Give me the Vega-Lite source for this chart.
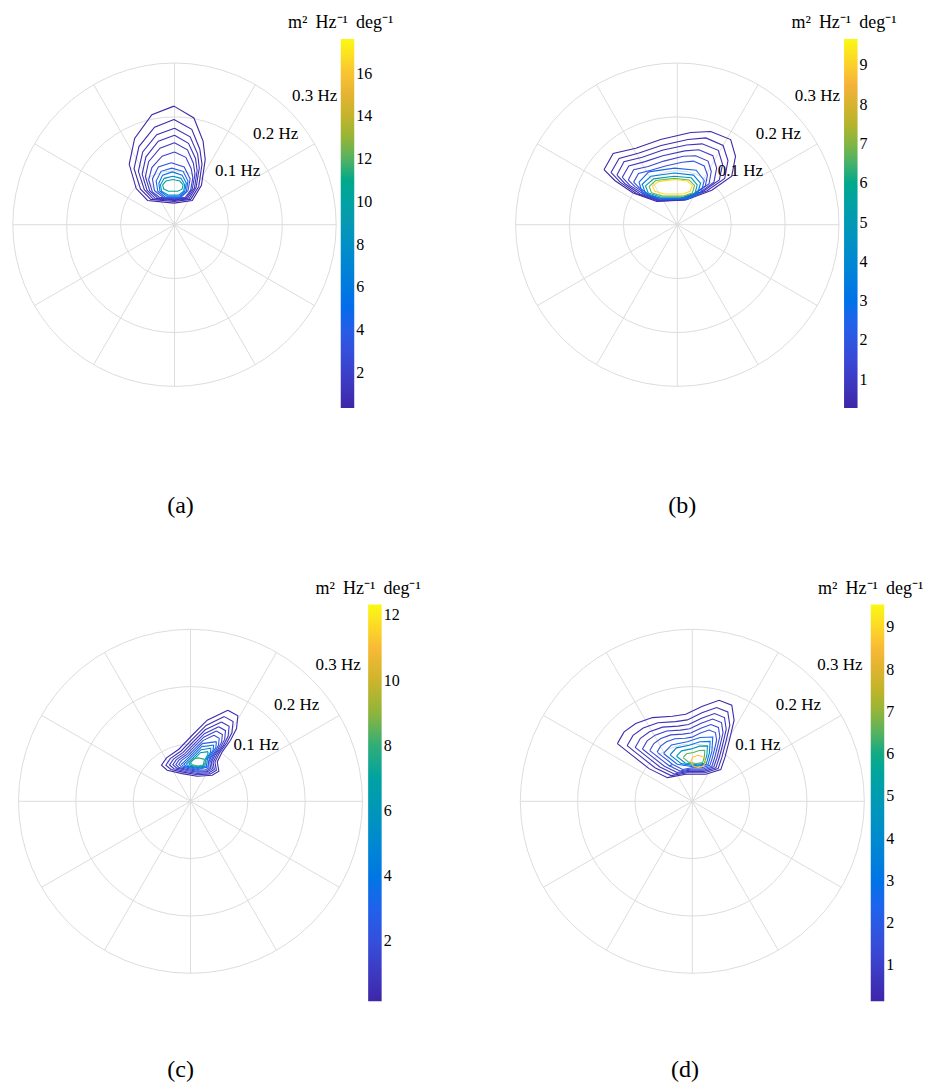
{
"$schema":"https://vega.github.io/schema/vega-lite/v6.json",
"background":"white",
"padding":{"left":9.8,"top":14,"right":0,"bottom":5},
"config":{"view":{"stroke":null},
"title":{"font":"Liberation Serif","fontSize":24,"fontWeight":"normal","color":"black","frame":"group","orient":"bottom"},
"legend":{"orient":"none","direction":"vertical","titleFont":"Liberation Serif","titleFontSize":18,"titleFontWeight":"normal","titleColor":"black","titleAnchor":"start","titleAlign":"center","titlePadding":7,"labelFont":"Liberation Serif","labelFontSize":16,"labelColor":"black","labelOffset":6,"padding":0,"gradientStrokeWidth":0,"labelOverlap":false,"gradientThickness":13.5}},
"datasets":{
"circles":[{"r":0.1},{"r":0.2},{"r":0.3}],
"spokes":[{"x":-0.3,"y":0,"x2":0.3,"y2":0},{"x":-0.2598,"y":-0.15,"x2":0.2598,"y2":0.15},{"x":-0.15,"y":-0.2598,"x2":0.15,"y2":0.2598},{"x":0,"y":-0.3,"x2":0,"y2":0.3},{"x":0.15,"y":-0.2598,"x2":-0.15,"y2":0.2598},{"x":0.2598,"y":-0.15,"x2":-0.2598,"y2":0.15}],
"rlabels":[{"t":"0.1 Hz","x":0.0751,"y":0.0989},{"t":"0.2 Hz","x":0.1456,"y":0.1688},{"t":"0.3 Hz","x":0.218,"y":0.238}],
"ca":[
{"k":1,"lv":0.4,"i":0,"x":-0.001,"y":0.22},{"k":1,"lv":0.4,"i":1,"x":0.036,"y":0.198},{"k":1,"lv":0.4,"i":2,"x":0.053,"y":0.155},{"k":1,"lv":0.4,"i":3,"x":0.057,"y":0.121},{"k":1,"lv":0.4,"i":4,"x":0.05,"y":0.073},{"k":1,"lv":0.4,"i":5,"x":0.033,"y":0.045},{"k":1,"lv":0.4,"i":6,"x":-0.001,"y":0.04},{"k":1,"lv":0.4,"i":7,"x":-0.05,"y":0.045},{"k":1,"lv":0.4,"i":8,"x":-0.071,"y":0.067},{"k":1,"lv":0.4,"i":9,"x":-0.084,"y":0.112},{"k":1,"lv":0.4,"i":10,"x":-0.074,"y":0.16},{"k":1,"lv":0.4,"i":11,"x":-0.042,"y":0.204},{"k":1,"lv":0.4,"i":12,"x":-0.001,"y":0.22},
{"k":2,"lv":0.6,"i":0,"x":-0.001,"y":0.195},{"k":2,"lv":0.6,"i":1,"x":0.032,"y":0.177},{"k":2,"lv":0.6,"i":2,"x":0.047,"y":0.14},{"k":2,"lv":0.6,"i":3,"x":0.051,"y":0.112},{"k":2,"lv":0.6,"i":4,"x":0.045,"y":0.071},{"k":2,"lv":0.6,"i":5,"x":0.03,"y":0.047},{"k":2,"lv":0.6,"i":6,"x":-0.001,"y":0.043},{"k":2,"lv":0.6,"i":7,"x":-0.044,"y":0.047},{"k":2,"lv":0.6,"i":8,"x":-0.063,"y":0.066},{"k":2,"lv":0.6,"i":9,"x":-0.075,"y":0.104},{"k":2,"lv":0.6,"i":10,"x":-0.066,"y":0.145},{"k":2,"lv":0.6,"i":11,"x":-0.037,"y":0.181},{"k":2,"lv":0.6,"i":12,"x":-0.001,"y":0.195},
{"k":3,"lv":0.9,"i":0,"x":0,"y":0.179},{"k":3,"lv":0.9,"i":1,"x":0.029,"y":0.163},{"k":3,"lv":0.9,"i":2,"x":0.043,"y":0.131},{"k":3,"lv":0.9,"i":3,"x":0.046,"y":0.105},{"k":3,"lv":0.9,"i":4,"x":0.04,"y":0.069},{"k":3,"lv":0.9,"i":5,"x":0.027,"y":0.048},{"k":3,"lv":0.9,"i":6,"x":0,"y":0.045},{"k":3,"lv":0.9,"i":7,"x":-0.04,"y":0.048},{"k":3,"lv":0.9,"i":8,"x":-0.056,"y":0.065},{"k":3,"lv":0.9,"i":9,"x":-0.067,"y":0.099},{"k":3,"lv":0.9,"i":10,"x":-0.059,"y":0.135},{"k":3,"lv":0.9,"i":11,"x":-0.033,"y":0.167},{"k":3,"lv":0.9,"i":12,"x":0,"y":0.179},
{"k":4,"lv":1.2,"i":0,"x":0,"y":0.166},{"k":4,"lv":1.2,"i":1,"x":0.026,"y":0.151},{"k":4,"lv":1.2,"i":2,"x":0.039,"y":0.123},{"k":4,"lv":1.2,"i":3,"x":0.042,"y":0.1},{"k":4,"lv":1.2,"i":4,"x":0.037,"y":0.068},{"k":4,"lv":1.2,"i":5,"x":0.024,"y":0.049},{"k":4,"lv":1.2,"i":6,"x":0,"y":0.046},{"k":4,"lv":1.2,"i":7,"x":-0.036,"y":0.049},{"k":4,"lv":1.2,"i":8,"x":-0.051,"y":0.064},{"k":4,"lv":1.2,"i":9,"x":-0.06,"y":0.094},{"k":4,"lv":1.2,"i":10,"x":-0.053,"y":0.126},{"k":4,"lv":1.2,"i":11,"x":-0.03,"y":0.155},{"k":4,"lv":1.2,"i":12,"x":0,"y":0.166},
{"k":5,"lv":1.6,"i":0,"x":0,"y":0.152},{"k":5,"lv":1.6,"i":1,"x":0.024,"y":0.139},{"k":5,"lv":1.6,"i":2,"x":0.035,"y":0.114},{"k":5,"lv":1.6,"i":3,"x":0.038,"y":0.094},{"k":5,"lv":1.6,"i":4,"x":0.033,"y":0.066},{"k":5,"lv":1.6,"i":5,"x":0.022,"y":0.05},{"k":5,"lv":1.6,"i":6,"x":0,"y":0.047},{"k":5,"lv":1.6,"i":7,"x":-0.032,"y":0.05},{"k":5,"lv":1.6,"i":8,"x":-0.046,"y":0.063},{"k":5,"lv":1.6,"i":9,"x":-0.054,"y":0.089},{"k":5,"lv":1.6,"i":10,"x":-0.048,"y":0.117},{"k":5,"lv":1.6,"i":11,"x":-0.027,"y":0.142},{"k":5,"lv":1.6,"i":12,"x":0,"y":0.152},
{"k":6,"lv":2.2,"i":0,"x":0,"y":0.135},{"k":6,"lv":2.2,"i":1,"x":0.021,"y":0.125},{"k":6,"lv":2.2,"i":2,"x":0.031,"y":0.104},{"k":6,"lv":2.2,"i":3,"x":0.034,"y":0.087},{"k":6,"lv":2.2,"i":4,"x":0.03,"y":0.064},{"k":6,"lv":2.2,"i":5,"x":0.02,"y":0.051},{"k":6,"lv":2.2,"i":6,"x":0,"y":0.048},{"k":6,"lv":2.2,"i":7,"x":-0.028,"y":0.051},{"k":6,"lv":2.2,"i":8,"x":-0.041,"y":0.061},{"k":6,"lv":2.2,"i":9,"x":-0.048,"y":0.083},{"k":6,"lv":2.2,"i":10,"x":-0.042,"y":0.106},{"k":6,"lv":2.2,"i":11,"x":-0.023,"y":0.127},{"k":6,"lv":2.2,"i":12,"x":0,"y":0.135},
{"k":7,"lv":3.0,"i":0,"x":-0.006,"y":0.115},{"k":7,"lv":3.0,"i":1,"x":0.018,"y":0.107},{"k":7,"lv":3.0,"i":2,"x":0.029,"y":0.085},{"k":7,"lv":3.0,"i":3,"x":0.025,"y":0.063},{"k":7,"lv":3.0,"i":4,"x":0.011,"y":0.05},{"k":7,"lv":3.0,"i":5,"x":-0.02,"y":0.05},{"k":7,"lv":3.0,"i":6,"x":-0.037,"y":0.063},{"k":7,"lv":3.0,"i":7,"x":-0.041,"y":0.085},{"k":7,"lv":3.0,"i":8,"x":-0.03,"y":0.107},{"k":7,"lv":3.0,"i":9,"x":-0.006,"y":0.115},
{"k":8,"lv":4.0,"i":0,"x":-0.005,"y":0.105},{"k":8,"lv":4.0,"i":1,"x":0.016,"y":0.099},{"k":8,"lv":4.0,"i":2,"x":0.025,"y":0.081},{"k":8,"lv":4.0,"i":3,"x":0.022,"y":0.062},{"k":8,"lv":4.0,"i":4,"x":0.01,"y":0.051},{"k":8,"lv":4.0,"i":5,"x":-0.017,"y":0.051},{"k":8,"lv":4.0,"i":6,"x":-0.031,"y":0.062},{"k":8,"lv":4.0,"i":7,"x":-0.034,"y":0.081},{"k":8,"lv":4.0,"i":8,"x":-0.025,"y":0.099},{"k":8,"lv":4.0,"i":9,"x":-0.005,"y":0.105},
{"k":9,"lv":5.5,"i":0,"x":-0.004,"y":0.098},{"k":9,"lv":5.5,"i":1,"x":0.014,"y":0.092},{"k":9,"lv":5.5,"i":2,"x":0.022,"y":0.077},{"k":9,"lv":5.5,"i":3,"x":0.019,"y":0.062},{"k":9,"lv":5.5,"i":4,"x":0.009,"y":0.053},{"k":9,"lv":5.5,"i":5,"x":-0.014,"y":0.053},{"k":9,"lv":5.5,"i":6,"x":-0.027,"y":0.062},{"k":9,"lv":5.5,"i":7,"x":-0.029,"y":0.077},{"k":9,"lv":5.5,"i":8,"x":-0.022,"y":0.092},{"k":9,"lv":5.5,"i":9,"x":-0.004,"y":0.098},
{"k":10,"lv":7.5,"i":0,"x":-0.003,"y":0.09},{"k":10,"lv":7.5,"i":1,"x":0.012,"y":0.086},{"k":10,"lv":7.5,"i":2,"x":0.019,"y":0.074},{"k":10,"lv":7.5,"i":3,"x":0.017,"y":0.062},{"k":10,"lv":7.5,"i":4,"x":0.008,"y":0.055},{"k":10,"lv":7.5,"i":5,"x":-0.012,"y":0.055},{"k":10,"lv":7.5,"i":6,"x":-0.024,"y":0.062},{"k":10,"lv":7.5,"i":7,"x":-0.026,"y":0.074},{"k":10,"lv":7.5,"i":8,"x":-0.019,"y":0.086},{"k":10,"lv":7.5,"i":9,"x":-0.003,"y":0.09},
{"k":11,"lv":10.5,"i":0,"x":-0.003,"y":0.084},{"k":11,"lv":10.5,"i":1,"x":0.01,"y":0.081},{"k":11,"lv":10.5,"i":2,"x":0.016,"y":0.074},{"k":11,"lv":10.5,"i":3,"x":0.014,"y":0.066},{"k":11,"lv":10.5,"i":4,"x":0.006,"y":0.062},{"k":11,"lv":10.5,"i":5,"x":-0.011,"y":0.062},{"k":11,"lv":10.5,"i":6,"x":-0.02,"y":0.066},{"k":11,"lv":10.5,"i":7,"x":-0.022,"y":0.074},{"k":11,"lv":10.5,"i":8,"x":-0.016,"y":0.081},{"k":11,"lv":10.5,"i":9,"x":-0.003,"y":0.084}
],
"cb":[
{"k":1,"lv":0.35,"i":0,"x":-0.136,"y":0.102},{"k":1,"lv":0.35,"i":1,"x":-0.119,"y":0.132},{"k":1,"lv":0.35,"i":2,"x":-0.077,"y":0.142},{"k":1,"lv":0.35,"i":3,"x":-0.031,"y":0.158},{"k":1,"lv":0.35,"i":4,"x":0.025,"y":0.171},{"k":1,"lv":0.35,"i":5,"x":0.062,"y":0.173},{"k":1,"lv":0.35,"i":6,"x":0.099,"y":0.158},{"k":1,"lv":0.35,"i":7,"x":0.108,"y":0.127},{"k":1,"lv":0.35,"i":8,"x":0.101,"y":0.09},{"k":1,"lv":0.35,"i":9,"x":0.064,"y":0.064},{"k":1,"lv":0.35,"i":10,"x":0.016,"y":0.046},{"k":1,"lv":0.35,"i":11,"x":-0.038,"y":0.043},{"k":1,"lv":0.35,"i":12,"x":-0.082,"y":0.059},{"k":1,"lv":0.35,"i":13,"x":-0.116,"y":0.082},{"k":1,"lv":0.35,"i":14,"x":-0.136,"y":0.102},
{"k":2,"lv":0.5,"i":0,"x":-0.123,"y":0.097},{"k":2,"lv":0.5,"i":1,"x":-0.108,"y":0.123},{"k":2,"lv":0.5,"i":2,"x":-0.071,"y":0.133},{"k":2,"lv":0.5,"i":3,"x":-0.03,"y":0.147},{"k":2,"lv":0.5,"i":4,"x":0.02,"y":0.158},{"k":2,"lv":0.5,"i":5,"x":0.053,"y":0.161},{"k":2,"lv":0.5,"i":6,"x":0.085,"y":0.147},{"k":2,"lv":0.5,"i":7,"x":0.094,"y":0.119},{"k":2,"lv":0.5,"i":8,"x":0.088,"y":0.086},{"k":2,"lv":0.5,"i":9,"x":0.055,"y":0.063},{"k":2,"lv":0.5,"i":10,"x":0.012,"y":0.046},{"k":2,"lv":0.5,"i":11,"x":-0.036,"y":0.044},{"k":2,"lv":0.5,"i":12,"x":-0.076,"y":0.058},{"k":2,"lv":0.5,"i":13,"x":-0.106,"y":0.079},{"k":2,"lv":0.5,"i":14,"x":-0.123,"y":0.097},
{"k":3,"lv":0.7,"i":0,"x":-0.112,"y":0.092},{"k":3,"lv":0.7,"i":1,"x":-0.099,"y":0.117},{"k":3,"lv":0.7,"i":2,"x":-0.065,"y":0.125},{"k":3,"lv":0.7,"i":3,"x":-0.028,"y":0.138},{"k":3,"lv":0.7,"i":4,"x":0.017,"y":0.148},{"k":3,"lv":0.7,"i":5,"x":0.046,"y":0.15},{"k":3,"lv":0.7,"i":6,"x":0.076,"y":0.138},{"k":3,"lv":0.7,"i":7,"x":0.084,"y":0.112},{"k":3,"lv":0.7,"i":8,"x":0.078,"y":0.083},{"k":3,"lv":0.7,"i":9,"x":0.048,"y":0.062},{"k":3,"lv":0.7,"i":10,"x":0.009,"y":0.047},{"k":3,"lv":0.7,"i":11,"x":-0.034,"y":0.045},{"k":3,"lv":0.7,"i":12,"x":-0.069,"y":0.057},{"k":3,"lv":0.7,"i":13,"x":-0.097,"y":0.076},{"k":3,"lv":0.7,"i":14,"x":-0.112,"y":0.092},
{"k":4,"lv":1.0,"i":0,"x":-0.102,"y":0.088},{"k":4,"lv":1.0,"i":1,"x":-0.09,"y":0.109},{"k":4,"lv":1.0,"i":2,"x":-0.06,"y":0.117},{"k":4,"lv":1.0,"i":3,"x":-0.027,"y":0.128},{"k":4,"lv":1.0,"i":4,"x":0.014,"y":0.137},{"k":4,"lv":1.0,"i":5,"x":0.04,"y":0.139},{"k":4,"lv":1.0,"i":6,"x":0.066,"y":0.128},{"k":4,"lv":1.0,"i":7,"x":0.073,"y":0.105},{"k":4,"lv":1.0,"i":8,"x":0.068,"y":0.079},{"k":4,"lv":1.0,"i":9,"x":0.042,"y":0.06},{"k":4,"lv":1.0,"i":10,"x":0.007,"y":0.047},{"k":4,"lv":1.0,"i":11,"x":-0.032,"y":0.045},{"k":4,"lv":1.0,"i":12,"x":-0.063,"y":0.057},{"k":4,"lv":1.0,"i":13,"x":-0.088,"y":0.073},{"k":4,"lv":1.0,"i":14,"x":-0.102,"y":0.088},
{"k":5,"lv":1.35,"i":0,"x":-0.091,"y":0.083},{"k":5,"lv":1.35,"i":1,"x":-0.081,"y":0.102},{"k":5,"lv":1.35,"i":2,"x":-0.054,"y":0.108},{"k":5,"lv":1.35,"i":3,"x":-0.025,"y":0.118},{"k":5,"lv":1.35,"i":4,"x":0.011,"y":0.127},{"k":5,"lv":1.35,"i":5,"x":0.034,"y":0.128},{"k":5,"lv":1.35,"i":6,"x":0.057,"y":0.118},{"k":5,"lv":1.35,"i":7,"x":0.063,"y":0.099},{"k":5,"lv":1.35,"i":8,"x":0.059,"y":0.076},{"k":5,"lv":1.35,"i":9,"x":0.035,"y":0.059},{"k":5,"lv":1.35,"i":10,"x":0.005,"y":0.048},{"k":5,"lv":1.35,"i":11,"x":-0.03,"y":0.046},{"k":5,"lv":1.35,"i":12,"x":-0.057,"y":0.056},{"k":5,"lv":1.35,"i":13,"x":-0.079,"y":0.071},{"k":5,"lv":1.35,"i":14,"x":-0.091,"y":0.083},
{"k":6,"lv":1.8,"i":0,"x":-0.081,"y":0.079},{"k":6,"lv":1.8,"i":1,"x":-0.072,"y":0.095},{"k":6,"lv":1.8,"i":2,"x":-0.049,"y":0.101},{"k":6,"lv":1.8,"i":3,"x":-0.022,"y":0.109},{"k":6,"lv":1.8,"i":4,"x":0.009,"y":0.116},{"k":6,"lv":1.8,"i":5,"x":0.03,"y":0.118},{"k":6,"lv":1.8,"i":6,"x":0.05,"y":0.109},{"k":6,"lv":1.8,"i":7,"x":0.056,"y":0.092},{"k":6,"lv":1.8,"i":8,"x":0.052,"y":0.072},{"k":6,"lv":1.8,"i":9,"x":0.031,"y":0.058},{"k":6,"lv":1.8,"i":10,"x":0.004,"y":0.048},{"k":6,"lv":1.8,"i":11,"x":-0.027,"y":0.047},{"k":6,"lv":1.8,"i":12,"x":-0.051,"y":0.055},{"k":6,"lv":1.8,"i":13,"x":-0.07,"y":0.068},{"k":6,"lv":1.8,"i":14,"x":-0.081,"y":0.079},
{"k":7,"lv":2.6,"i":0,"x":-0.005,"y":0.105},{"k":7,"lv":2.6,"i":1,"x":0.035,"y":0.101},{"k":7,"lv":2.6,"i":2,"x":0.05,"y":0.082},{"k":7,"lv":2.6,"i":3,"x":0.044,"y":0.059},{"k":7,"lv":2.6,"i":4,"x":0.02,"y":0.048},{"k":7,"lv":2.6,"i":5,"x":-0.035,"y":0.048},{"k":7,"lv":2.6,"i":6,"x":-0.065,"y":0.059},{"k":7,"lv":2.6,"i":7,"x":-0.071,"y":0.079},{"k":7,"lv":2.6,"i":8,"x":-0.053,"y":0.098},{"k":7,"lv":2.6,"i":9,"x":-0.005,"y":0.105},
{"k":8,"lv":3.6,"i":0,"x":-0.005,"y":0.096},{"k":8,"lv":3.6,"i":1,"x":0.03,"y":0.092},{"k":8,"lv":3.6,"i":2,"x":0.043,"y":0.077},{"k":8,"lv":3.6,"i":3,"x":0.038,"y":0.058},{"k":8,"lv":3.6,"i":4,"x":0.016,"y":0.049},{"k":8,"lv":3.6,"i":5,"x":-0.032,"y":0.049},{"k":8,"lv":3.6,"i":6,"x":-0.059,"y":0.058},{"k":8,"lv":3.6,"i":7,"x":-0.065,"y":0.075},{"k":8,"lv":3.6,"i":8,"x":-0.049,"y":0.09},{"k":8,"lv":3.6,"i":9,"x":-0.005,"y":0.096},
{"k":9,"lv":5.0,"i":0,"x":-0.006,"y":0.09},{"k":9,"lv":5.0,"i":1,"x":0.026,"y":0.087},{"k":9,"lv":5.0,"i":2,"x":0.037,"y":0.074},{"k":9,"lv":5.0,"i":3,"x":0.033,"y":0.059},{"k":9,"lv":5.0,"i":4,"x":0.013,"y":0.051},{"k":9,"lv":5.0,"i":5,"x":-0.03,"y":0.051},{"k":9,"lv":5.0,"i":6,"x":-0.054,"y":0.059},{"k":9,"lv":5.0,"i":7,"x":-0.059,"y":0.072},{"k":9,"lv":5.0,"i":8,"x":-0.044,"y":0.085},{"k":9,"lv":5.0,"i":9,"x":-0.006,"y":0.09},
{"k":10,"lv":6.8,"i":0,"x":-0.006,"y":0.086},{"k":10,"lv":6.8,"i":1,"x":0.022,"y":0.083},{"k":10,"lv":6.8,"i":2,"x":0.032,"y":0.073},{"k":10,"lv":6.8,"i":3,"x":0.028,"y":0.059},{"k":10,"lv":6.8,"i":4,"x":0.011,"y":0.053},{"k":10,"lv":6.8,"i":5,"x":-0.027,"y":0.053},{"k":10,"lv":6.8,"i":6,"x":-0.048,"y":0.059},{"k":10,"lv":6.8,"i":7,"x":-0.052,"y":0.071},{"k":10,"lv":6.8,"i":8,"x":-0.04,"y":0.082},{"k":10,"lv":6.8,"i":9,"x":-0.006,"y":0.086},
{"k":11,"lv":9.2,"i":0,"x":-0.005,"y":0.084},{"k":11,"lv":9.2,"i":1,"x":0.019,"y":0.081},{"k":11,"lv":9.2,"i":2,"x":0.028,"y":0.073},{"k":11,"lv":9.2,"i":3,"x":0.024,"y":0.062},{"k":11,"lv":9.2,"i":4,"x":0.01,"y":0.057},{"k":11,"lv":9.2,"i":5,"x":-0.024,"y":0.057},{"k":11,"lv":9.2,"i":6,"x":-0.042,"y":0.062},{"k":11,"lv":9.2,"i":7,"x":-0.046,"y":0.072},{"k":11,"lv":9.2,"i":8,"x":-0.035,"y":0.08},{"k":11,"lv":9.2,"i":9,"x":-0.005,"y":0.084}
],
"cc":[
{"k":1,"lv":0.4,"i":0,"x":0.0652,"y":0.1589},{"k":1,"lv":0.4,"i":1,"x":0.0826,"y":0.149},{"k":1,"lv":0.4,"i":2,"x":0.0803,"y":0.1269},{"k":1,"lv":0.4,"i":3,"x":0.0698,"y":0.1065},{"k":1,"lv":0.4,"i":4,"x":0.0553,"y":0.0862},{"k":1,"lv":0.4,"i":5,"x":0.0466,"y":0.0687},{"k":1,"lv":0.4,"i":6,"x":0.0495,"y":0.0524},{"k":1,"lv":0.4,"i":7,"x":0.0378,"y":0.0454},{"k":1,"lv":0.4,"i":8,"x":0.0117,"y":0.0437},{"k":1,"lv":0.4,"i":9,"x":-0.0145,"y":0.0483},{"k":1,"lv":0.4,"i":10,"x":-0.0407,"y":0.0542},{"k":1,"lv":0.4,"i":11,"x":-0.0506,"y":0.0629},{"k":1,"lv":0.4,"i":12,"x":-0.0419,"y":0.0757},{"k":1,"lv":0.4,"i":13,"x":-0.0203,"y":0.0908},{"k":1,"lv":0.4,"i":14,"x":0.0029,"y":0.1152},{"k":1,"lv":0.4,"i":15,"x":0.0291,"y":0.1414},{"k":1,"lv":0.4,"i":16,"x":0.0652,"y":0.1589},
{"k":2,"lv":0.6,"i":0,"x":0.059,"y":0.1477},{"k":2,"lv":0.6,"i":1,"x":0.0743,"y":0.139},{"k":2,"lv":0.6,"i":2,"x":0.0723,"y":0.1196},{"k":2,"lv":0.6,"i":3,"x":0.063,"y":0.1016},{"k":2,"lv":0.6,"i":4,"x":0.0503,"y":0.0838},{"k":2,"lv":0.6,"i":5,"x":0.0426,"y":0.0684},{"k":2,"lv":0.6,"i":6,"x":0.0452,"y":0.054},{"k":2,"lv":0.6,"i":7,"x":0.0349,"y":0.0478},{"k":2,"lv":0.6,"i":8,"x":0.0119,"y":0.0464},{"k":2,"lv":0.6,"i":9,"x":-0.0112,"y":0.0504},{"k":2,"lv":0.6,"i":10,"x":-0.0342,"y":0.0556},{"k":2,"lv":0.6,"i":11,"x":-0.0429,"y":0.0632},{"k":2,"lv":0.6,"i":12,"x":-0.0353,"y":0.0745},{"k":2,"lv":0.6,"i":13,"x":-0.0163,"y":0.0878},{"k":2,"lv":0.6,"i":14,"x":0.0042,"y":0.1093},{"k":2,"lv":0.6,"i":15,"x":0.0272,"y":0.1323},{"k":2,"lv":0.6,"i":16,"x":0.059,"y":0.1477},
{"k":3,"lv":0.9,"i":0,"x":0.0538,"y":0.1384},{"k":3,"lv":0.9,"i":1,"x":0.0674,"y":0.1307},{"k":3,"lv":0.9,"i":2,"x":0.0656,"y":0.1135},{"k":3,"lv":0.9,"i":3,"x":0.0574,"y":0.0975},{"k":3,"lv":0.9,"i":4,"x":0.0461,"y":0.0817},{"k":3,"lv":0.9,"i":5,"x":0.0393,"y":0.0681},{"k":3,"lv":0.9,"i":6,"x":0.0416,"y":0.0553},{"k":3,"lv":0.9,"i":7,"x":0.0324,"y":0.0499},{"k":3,"lv":0.9,"i":8,"x":0.0121,"y":0.0486},{"k":3,"lv":0.9,"i":9,"x":-0.0084,"y":0.0521},{"k":3,"lv":0.9,"i":10,"x":-0.0288,"y":0.0568},{"k":3,"lv":0.9,"i":11,"x":-0.0365,"y":0.0635},{"k":3,"lv":0.9,"i":12,"x":-0.0297,"y":0.0735},{"k":3,"lv":0.9,"i":13,"x":-0.0129,"y":0.0853},{"k":3,"lv":0.9,"i":14,"x":0.0052,"y":0.1043},{"k":3,"lv":0.9,"i":15,"x":0.0256,"y":0.1248},{"k":3,"lv":0.9,"i":16,"x":0.0538,"y":0.1384},
{"k":4,"lv":1.2,"i":0,"x":0.0491,"y":0.13},{"k":4,"lv":1.2,"i":1,"x":0.0611,"y":0.1232},{"k":4,"lv":1.2,"i":2,"x":0.0596,"y":0.108},{"k":4,"lv":1.2,"i":3,"x":0.0523,"y":0.0939},{"k":4,"lv":1.2,"i":4,"x":0.0423,"y":0.0799},{"k":4,"lv":1.2,"i":5,"x":0.0363,"y":0.0678},{"k":4,"lv":1.2,"i":6,"x":0.0383,"y":0.0566},{"k":4,"lv":1.2,"i":7,"x":0.0302,"y":0.0517},{"k":4,"lv":1.2,"i":8,"x":0.0122,"y":0.0506},{"k":4,"lv":1.2,"i":9,"x":-0.0059,"y":0.0537},{"k":4,"lv":1.2,"i":10,"x":-0.0239,"y":0.0578},{"k":4,"lv":1.2,"i":11,"x":-0.0308,"y":0.0638},{"k":4,"lv":1.2,"i":12,"x":-0.0248,"y":0.0726},{"k":4,"lv":1.2,"i":13,"x":-0.0099,"y":0.0831},{"k":4,"lv":1.2,"i":14,"x":0.0062,"y":0.0999},{"k":4,"lv":1.2,"i":15,"x":0.0242,"y":0.118},{"k":4,"lv":1.2,"i":16,"x":0.0491,"y":0.13},
{"k":5,"lv":1.6,"i":0,"x":0.045,"y":0.1226},{"k":5,"lv":1.6,"i":1,"x":0.0556,"y":0.1166},{"k":5,"lv":1.6,"i":2,"x":0.0542,"y":0.1031},{"k":5,"lv":1.6,"i":3,"x":0.0478,"y":0.0906},{"k":5,"lv":1.6,"i":4,"x":0.039,"y":0.0782},{"k":5,"lv":1.6,"i":5,"x":0.0337,"y":0.0676},{"k":5,"lv":1.6,"i":6,"x":0.0354,"y":0.0576},{"k":5,"lv":1.6,"i":7,"x":0.0283,"y":0.0534},{"k":5,"lv":1.6,"i":8,"x":0.0124,"y":0.0523},{"k":5,"lv":1.6,"i":9,"x":-0.0036,"y":0.0551},{"k":5,"lv":1.6,"i":10,"x":-0.0196,"y":0.0587},{"k":5,"lv":1.6,"i":11,"x":-0.0256,"y":0.064},{"k":5,"lv":1.6,"i":12,"x":-0.0203,"y":0.0718},{"k":5,"lv":1.6,"i":13,"x":-0.0072,"y":0.0811},{"k":5,"lv":1.6,"i":14,"x":0.007,"y":0.0959},{"k":5,"lv":1.6,"i":15,"x":0.023,"y":0.1119},{"k":5,"lv":1.6,"i":16,"x":0.045,"y":0.1226},
{"k":6,"lv":2.1,"i":0,"x":0.0409,"y":0.1151},{"k":6,"lv":2.1,"i":1,"x":0.0501,"y":0.1099},{"k":6,"lv":2.1,"i":2,"x":0.0489,"y":0.0982},{"k":6,"lv":2.1,"i":3,"x":0.0433,"y":0.0874},{"k":6,"lv":2.1,"i":4,"x":0.0356,"y":0.0766},{"k":6,"lv":2.1,"i":5,"x":0.031,"y":0.0673},{"k":6,"lv":2.1,"i":6,"x":0.0325,"y":0.0587},{"k":6,"lv":2.1,"i":7,"x":0.0263,"y":0.055},{"k":6,"lv":2.1,"i":8,"x":0.0125,"y":0.0541},{"k":6,"lv":2.1,"i":9,"x":-0.0014,"y":0.0565},{"k":6,"lv":2.1,"i":10,"x":-0.0153,"y":0.0597},{"k":6,"lv":2.1,"i":11,"x":-0.0205,"y":0.0643},{"k":6,"lv":2.1,"i":12,"x":-0.0159,"y":0.071},{"k":6,"lv":2.1,"i":13,"x":-0.0045,"y":0.0791},{"k":6,"lv":2.1,"i":14,"x":0.0078,"y":0.092},{"k":6,"lv":2.1,"i":15,"x":0.0217,"y":0.1059},{"k":6,"lv":2.1,"i":16,"x":0.0409,"y":0.1151},
{"k":7,"lv":2.8,"i":0,"x":0.0452,"y":0.1041},{"k":7,"lv":2.8,"i":1,"x":0.0442,"y":0.0939},{"k":7,"lv":2.8,"i":2,"x":0.0327,"y":0.0752},{"k":7,"lv":2.8,"i":3,"x":0.03,"y":0.0596},{"k":7,"lv":2.8,"i":4,"x":0.0126,"y":0.0556},{"k":7,"lv":2.8,"i":5,"x":-0.0115,"y":0.0605},{"k":7,"lv":2.8,"i":6,"x":-0.016,"y":0.0645},{"k":7,"lv":2.8,"i":7,"x":-0.0021,"y":0.0773},{"k":7,"lv":2.8,"i":8,"x":0.0206,"y":0.1006},{"k":7,"lv":2.8,"i":9,"x":0.0452,"y":0.1041},
{"k":8,"lv":3.6,"i":0,"x":0.0404,"y":0.0982},{"k":8,"lv":3.6,"i":1,"x":0.0395,"y":0.0896},{"k":8,"lv":3.6,"i":2,"x":0.0297,"y":0.0738},{"k":8,"lv":3.6,"i":3,"x":0.0275,"y":0.0606},{"k":8,"lv":3.6,"i":4,"x":0.0127,"y":0.0572},{"k":8,"lv":3.6,"i":5,"x":-0.0077,"y":0.0613},{"k":8,"lv":3.6,"i":6,"x":-0.0116,"y":0.0647},{"k":8,"lv":3.6,"i":7,"x":0.0003,"y":0.0756},{"k":8,"lv":3.6,"i":8,"x":0.0195,"y":0.0953},{"k":8,"lv":3.6,"i":9,"x":0.0404,"y":0.0982},
{"k":9,"lv":4.6,"i":0,"x":0.0355,"y":0.0924},{"k":9,"lv":4.6,"i":1,"x":0.0348,"y":0.0854},{"k":9,"lv":4.6,"i":2,"x":0.0268,"y":0.0723},{"k":9,"lv":4.6,"i":3,"x":0.025,"y":0.0615},{"k":9,"lv":4.6,"i":4,"x":0.0129,"y":0.0587},{"k":9,"lv":4.6,"i":5,"x":-0.0039,"y":0.0621},{"k":9,"lv":4.6,"i":6,"x":-0.0071,"y":0.0649},{"k":9,"lv":4.6,"i":7,"x":0.0026,"y":0.0738},{"k":9,"lv":4.6,"i":8,"x":0.0184,"y":0.09},{"k":9,"lv":4.6,"i":9,"x":0.0355,"y":0.0924},
{"k":10,"lv":6.0,"i":0,"x":0.0307,"y":0.0866},{"k":10,"lv":6.0,"i":1,"x":0.0301,"y":0.0811},{"k":10,"lv":6.0,"i":2,"x":0.0239,"y":0.0709},{"k":10,"lv":6.0,"i":3,"x":0.0224,"y":0.0624},{"k":10,"lv":6.0,"i":4,"x":0.013,"y":0.0603},{"k":10,"lv":6.0,"i":5,"x":-0.0001,"y":0.0629},{"k":10,"lv":6.0,"i":6,"x":-0.0026,"y":0.0651},{"k":10,"lv":6.0,"i":7,"x":0.005,"y":0.0721},{"k":10,"lv":6.0,"i":8,"x":0.0173,"y":0.0847},{"k":10,"lv":6.0,"i":9,"x":0.0307,"y":0.0866},
{"k":11,"lv":8.0,"i":0,"x":0.0274,"y":0.0687},{"k":11,"lv":8.0,"i":1,"x":0.0232,"y":0.0736},{"k":11,"lv":8.0,"i":2,"x":0.0131,"y":0.0757},{"k":11,"lv":8.0,"i":3,"x":0.003,"y":0.0736},{"k":11,"lv":8.0,"i":4,"x":-0.0012,"y":0.0687},{"k":11,"lv":8.0,"i":5,"x":0.003,"y":0.0638},{"k":11,"lv":8.0,"i":6,"x":0.0131,"y":0.0617},{"k":11,"lv":8.0,"i":7,"x":0.0232,"y":0.0638},{"k":11,"lv":8.0,"i":8,"x":0.0274,"y":0.0687}
],
"cd":[
{"k":1,"lv":0.3,"i":0,"x":-0.1307,"y":0.1006},{"k":1,"lv":0.3,"i":1,"x":-0.119,"y":0.121},{"k":1,"lv":0.3,"i":2,"x":-0.0987,"y":0.1356},{"k":1,"lv":0.3,"i":3,"x":-0.0696,"y":0.146},{"k":1,"lv":0.3,"i":4,"x":-0.0347,"y":0.1483},{"k":1,"lv":0.3,"i":5,"x":-0.0114,"y":0.1518},{"k":1,"lv":0.3,"i":6,"x":0.0177,"y":0.1658},{"k":1,"lv":0.3,"i":7,"x":0.0468,"y":0.1763},{"k":1,"lv":0.3,"i":8,"x":0.0689,"y":0.1675},{"k":1,"lv":0.3,"i":9,"x":0.0729,"y":0.1414},{"k":1,"lv":0.3,"i":10,"x":0.0654,"y":0.1094},{"k":1,"lv":0.3,"i":11,"x":0.0572,"y":0.0774},{"k":1,"lv":0.3,"i":12,"x":0.0497,"y":0.0553},{"k":1,"lv":0.3,"i":13,"x":0.0235,"y":0.0471},{"k":1,"lv":0.3,"i":14,"x":-0.0114,"y":0.0471},{"k":1,"lv":0.3,"i":15,"x":-0.0434,"y":0.0413},{"k":1,"lv":0.3,"i":16,"x":-0.0754,"y":0.057},{"k":1,"lv":0.3,"i":17,"x":-0.1103,"y":0.0844},{"k":1,"lv":0.3,"i":18,"x":-0.1307,"y":0.1006},
{"k":2,"lv":0.5,"i":0,"x":-0.1137,"y":0.097},{"k":2,"lv":0.5,"i":1,"x":-0.1034,"y":0.1149},{"k":2,"lv":0.5,"i":2,"x":-0.0856,"y":0.1278},{"k":2,"lv":0.5,"i":3,"x":-0.06,"y":0.1369},{"k":2,"lv":0.5,"i":4,"x":-0.0293,"y":0.139},{"k":2,"lv":0.5,"i":5,"x":-0.0087,"y":0.142},{"k":2,"lv":0.5,"i":6,"x":0.0169,"y":0.1544},{"k":2,"lv":0.5,"i":7,"x":0.0425,"y":0.1636},{"k":2,"lv":0.5,"i":8,"x":0.0619,"y":0.1558},{"k":2,"lv":0.5,"i":9,"x":0.0654,"y":0.1329},{"k":2,"lv":0.5,"i":10,"x":0.0588,"y":0.1047},{"k":2,"lv":0.5,"i":11,"x":0.0516,"y":0.0766},{"k":2,"lv":0.5,"i":12,"x":0.045,"y":0.0571},{"k":2,"lv":0.5,"i":13,"x":0.022,"y":0.0499},{"k":2,"lv":0.5,"i":14,"x":-0.0087,"y":0.0499},{"k":2,"lv":0.5,"i":15,"x":-0.0369,"y":0.0448},{"k":2,"lv":0.5,"i":16,"x":-0.0651,"y":0.0586},{"k":2,"lv":0.5,"i":17,"x":-0.0958,"y":0.0827},{"k":2,"lv":0.5,"i":18,"x":-0.1137,"y":0.097},
{"k":3,"lv":0.7,"i":0,"x":-0.0996,"y":0.094},{"k":3,"lv":0.7,"i":1,"x":-0.0905,"y":0.1099},{"k":3,"lv":0.7,"i":2,"x":-0.0746,"y":0.1213},{"k":3,"lv":0.7,"i":3,"x":-0.0519,"y":0.1294},{"k":3,"lv":0.7,"i":4,"x":-0.0247,"y":0.1312},{"k":3,"lv":0.7,"i":5,"x":-0.0065,"y":0.1339},{"k":3,"lv":0.7,"i":6,"x":0.0162,"y":0.1448},{"k":3,"lv":0.7,"i":7,"x":0.0389,"y":0.153},{"k":3,"lv":0.7,"i":8,"x":0.0561,"y":0.1461},{"k":3,"lv":0.7,"i":9,"x":0.0592,"y":0.1258},{"k":3,"lv":0.7,"i":10,"x":0.0534,"y":0.1008},{"k":3,"lv":0.7,"i":11,"x":0.047,"y":0.0759},{"k":3,"lv":0.7,"i":12,"x":0.0411,"y":0.0586},{"k":3,"lv":0.7,"i":13,"x":0.0207,"y":0.0522},{"k":3,"lv":0.7,"i":14,"x":-0.0065,"y":0.0522},{"k":3,"lv":0.7,"i":15,"x":-0.0315,"y":0.0477},{"k":3,"lv":0.7,"i":16,"x":-0.0565,"y":0.0599},{"k":3,"lv":0.7,"i":17,"x":-0.0837,"y":0.0813},{"k":3,"lv":0.7,"i":18,"x":-0.0996,"y":0.094},
{"k":4,"lv":1.0,"i":0,"x":-0.0869,"y":0.0912},{"k":4,"lv":1.0,"i":1,"x":-0.0788,"y":0.1053},{"k":4,"lv":1.0,"i":2,"x":-0.0648,"y":0.1154},{"k":4,"lv":1.0,"i":3,"x":-0.0447,"y":0.1226},{"k":4,"lv":1.0,"i":4,"x":-0.0206,"y":0.1242},{"k":4,"lv":1.0,"i":5,"x":-0.0045,"y":0.1266},{"k":4,"lv":1.0,"i":6,"x":0.0155,"y":0.1362},{"k":4,"lv":1.0,"i":7,"x":0.0356,"y":0.1435},{"k":4,"lv":1.0,"i":8,"x":0.0509,"y":0.1374},{"k":4,"lv":1.0,"i":9,"x":0.0536,"y":0.1194},{"k":4,"lv":1.0,"i":10,"x":0.0484,"y":0.0973},{"k":4,"lv":1.0,"i":11,"x":0.0428,"y":0.0752},{"k":4,"lv":1.0,"i":12,"x":0.0376,"y":0.06},{"k":4,"lv":1.0,"i":13,"x":0.0195,"y":0.0543},{"k":4,"lv":1.0,"i":14,"x":-0.0045,"y":0.0543},{"k":4,"lv":1.0,"i":15,"x":-0.0266,"y":0.0503},{"k":4,"lv":1.0,"i":16,"x":-0.0487,"y":0.0612},{"k":4,"lv":1.0,"i":17,"x":-0.0728,"y":0.0801},{"k":4,"lv":1.0,"i":18,"x":-0.0869,"y":0.0912},
{"k":5,"lv":1.35,"i":0,"x":-0.0741,"y":0.0885},{"k":5,"lv":1.35,"i":1,"x":-0.0671,"y":0.1008},{"k":5,"lv":1.35,"i":2,"x":-0.0549,"y":0.1095},{"k":5,"lv":1.35,"i":3,"x":-0.0375,"y":0.1158},{"k":5,"lv":1.35,"i":4,"x":-0.0165,"y":0.1171},{"k":5,"lv":1.35,"i":5,"x":-0.0026,"y":0.1192},{"k":5,"lv":1.35,"i":6,"x":0.0149,"y":0.1276},{"k":5,"lv":1.35,"i":7,"x":0.0324,"y":0.1339},{"k":5,"lv":1.35,"i":8,"x":0.0456,"y":0.1287},{"k":5,"lv":1.35,"i":9,"x":0.048,"y":0.113},{"k":5,"lv":1.35,"i":10,"x":0.0435,"y":0.0938},{"k":5,"lv":1.35,"i":11,"x":0.0386,"y":0.0746},{"k":5,"lv":1.35,"i":12,"x":0.0341,"y":0.0613},{"k":5,"lv":1.35,"i":13,"x":0.0184,"y":0.0564},{"k":5,"lv":1.35,"i":14,"x":-0.0026,"y":0.0564},{"k":5,"lv":1.35,"i":15,"x":-0.0218,"y":0.0529},{"k":5,"lv":1.35,"i":16,"x":-0.041,"y":0.0624},{"k":5,"lv":1.35,"i":17,"x":-0.0619,"y":0.0788},{"k":5,"lv":1.35,"i":18,"x":-0.0741,"y":0.0885},
{"k":6,"lv":1.8,"i":0,"x":-0.0614,"y":0.0858},{"k":6,"lv":1.8,"i":1,"x":-0.0554,"y":0.0962},{"k":6,"lv":1.8,"i":2,"x":-0.0451,"y":0.1037},{"k":6,"lv":1.8,"i":3,"x":-0.0303,"y":0.109},{"k":6,"lv":1.8,"i":4,"x":-0.0125,"y":0.1101},{"k":6,"lv":1.8,"i":5,"x":-0.0006,"y":0.1119},{"k":6,"lv":1.8,"i":6,"x":0.0143,"y":0.1191},{"k":6,"lv":1.8,"i":7,"x":0.0291,"y":0.1244},{"k":6,"lv":1.8,"i":8,"x":0.0404,"y":0.1199},{"k":6,"lv":1.8,"i":9,"x":0.0424,"y":0.1066},{"k":6,"lv":1.8,"i":10,"x":0.0386,"y":0.0903},{"k":6,"lv":1.8,"i":11,"x":0.0344,"y":0.074},{"k":6,"lv":1.8,"i":12,"x":0.0306,"y":0.0627},{"k":6,"lv":1.8,"i":13,"x":0.0172,"y":0.0585},{"k":6,"lv":1.8,"i":14,"x":-0.0006,"y":0.0585},{"k":6,"lv":1.8,"i":15,"x":-0.0169,"y":0.0556},{"k":6,"lv":1.8,"i":16,"x":-0.0332,"y":0.0636},{"k":6,"lv":1.8,"i":17,"x":-0.051,"y":0.0775},{"k":6,"lv":1.8,"i":18,"x":-0.0614,"y":0.0858},
{"k":7,"lv":2.5,"i":0,"x":-0.0501,"y":0.0834},{"k":7,"lv":2.5,"i":1,"x":-0.0363,"y":0.0984},{"k":7,"lv":2.5,"i":2,"x":-0.0088,"y":0.1039},{"k":7,"lv":2.5,"i":3,"x":0.0137,"y":0.1114},{"k":7,"lv":2.5,"i":4,"x":0.0357,"y":0.1122},{"k":7,"lv":2.5,"i":5,"x":0.0342,"y":0.0872},{"k":7,"lv":2.5,"i":6,"x":0.0275,"y":0.0639},{"k":7,"lv":2.5,"i":7,"x":0.0012,"y":0.0604},{"k":7,"lv":2.5,"i":8,"x":-0.0263,"y":0.0646},{"k":7,"lv":2.5,"i":9,"x":-0.0501,"y":0.0834},
{"k":8,"lv":3.4,"i":0,"x":-0.0388,"y":0.081},{"k":8,"lv":3.4,"i":1,"x":-0.0276,"y":0.0932},{"k":8,"lv":3.4,"i":2,"x":-0.0052,"y":0.0977},{"k":8,"lv":3.4,"i":3,"x":0.0132,"y":0.1038},{"k":8,"lv":3.4,"i":4,"x":0.0311,"y":0.1044},{"k":8,"lv":3.4,"i":5,"x":0.0298,"y":0.0841},{"k":8,"lv":3.4,"i":6,"x":0.0244,"y":0.0651},{"k":8,"lv":3.4,"i":7,"x":0.003,"y":0.0622},{"k":8,"lv":3.4,"i":8,"x":-0.0194,"y":0.0657},{"k":8,"lv":3.4,"i":9,"x":-0.0388,"y":0.081},
{"k":9,"lv":4.8,"i":0,"x":-0.0275,"y":0.0786},{"k":9,"lv":4.8,"i":1,"x":-0.0188,"y":0.088},{"k":9,"lv":4.8,"i":2,"x":-0.0016,"y":0.0914},{"k":9,"lv":4.8,"i":3,"x":0.0126,"y":0.0962},{"k":9,"lv":4.8,"i":4,"x":0.0264,"y":0.0966},{"k":9,"lv":4.8,"i":5,"x":0.0255,"y":0.0809},{"k":9,"lv":4.8,"i":6,"x":0.0212,"y":0.0663},{"k":9,"lv":4.8,"i":7,"x":0.0047,"y":0.0641},{"k":9,"lv":4.8,"i":8,"x":-0.0125,"y":0.0668},{"k":9,"lv":4.8,"i":9,"x":-0.0275,"y":0.0786},
{"k":10,"lv":6.5,"i":0,"x":-0.0162,"y":0.0761},{"k":10,"lv":6.5,"i":1,"x":-0.0101,"y":0.0828},{"k":10,"lv":6.5,"i":2,"x":0.0021,"y":0.0852},{"k":10,"lv":6.5,"i":3,"x":0.012,"y":0.0885},{"k":10,"lv":6.5,"i":4,"x":0.0218,"y":0.0888},{"k":10,"lv":6.5,"i":5,"x":0.0211,"y":0.0778},{"k":10,"lv":6.5,"i":6,"x":0.0181,"y":0.0675},{"k":10,"lv":6.5,"i":7,"x":0.0065,"y":0.066},{"k":10,"lv":6.5,"i":8,"x":-0.0057,"y":0.0679},{"k":10,"lv":6.5,"i":9,"x":-0.0162,"y":0.0761},
{"k":11,"lv":8.6,"i":0,"x":0.0235,"y":0.0695},{"k":11,"lv":8.6,"i":1,"x":0.0197,"y":0.0771},{"k":11,"lv":8.6,"i":2,"x":0.0104,"y":0.0803},{"k":11,"lv":8.6,"i":3,"x":0.0011,"y":0.0771},{"k":11,"lv":8.6,"i":4,"x":-0.0027,"y":0.0695},{"k":11,"lv":8.6,"i":5,"x":0.0011,"y":0.0619},{"k":11,"lv":8.6,"i":6,"x":0.0104,"y":0.0587},{"k":11,"lv":8.6,"i":7,"x":0.0197,"y":0.0619},{"k":11,"lv":8.6,"i":8,"x":0.0235,"y":0.0695},
{"k":12,"lv":3.0,"i":0,"x":-0.0405,"y":0.0617},{"k":12,"lv":3.0,"i":1,"x":-0.0345,"y":0.0642},{"k":12,"lv":3.0,"i":2,"x":-0.0405,"y":0.0617}
]
},
"columns":2,
"bounds":"flush",
"spacing":{"row":242.3,"column":152.8},
"resolve":{"scale":{"x":"independent","y":"independent","color":"independent","size":"independent"},"legend":{"color":"independent","size":"independent"}},
"concat":[
{"width":323.4,"height":323.4,"title":{"text":"(a)","offset":86,"dx":6},
"layer":[
{"data":{"name":"circles"},"mark":{"type":"point","shape":"circle","filled":false,"color":"#dcdcdc","strokeWidth":1,"opacity":1},"encoding":{"x":{"datum":0,"type":"quantitative","scale":{"domain":[-0.3,0.3],"nice":false,"zero":false},"axis":null},"y":{"datum":0,"type":"quantitative","scale":{"domain":[-0.3,0.3],"nice":false,"zero":false},"axis":null},"size":{"field":"r","type":"quantitative","scale":{"type":"pow","exponent":2,"domain":[0,0.3],"range":[0,104588]},"legend":null}}},
{"data":{"name":"spokes"},"mark":{"type":"rule","color":"#dcdcdc","strokeWidth":1},"encoding":{"x":{"field":"x","type":"quantitative","scale":{"domain":[-0.3,0.3],"nice":false,"zero":false},"axis":null},"y":{"field":"y","type":"quantitative","scale":{"domain":[-0.3,0.3],"nice":false,"zero":false},"axis":null},"x2":{"field":"x2"},"y2":{"field":"y2"}}},
{"data":{"name":"ca"},"mark":{"type":"line","strokeWidth":1.1},"encoding":{"x":{"field":"x","type":"quantitative","scale":{"domain":[-0.3,0.3],"nice":false,"zero":false},"axis":null},"y":{"field":"y","type":"quantitative","scale":{"domain":[-0.3,0.3],"nice":false,"zero":false},"axis":null},"detail":{"field":"k","type":"nominal"},"order":{"field":"i","type":"quantitative"},"color":{"field":"lv","type":"quantitative","scale":{"domain":[0.36,2.5175,4.675,6.8325,8.99,11.1475,13.305,15.4625,17.62],"range":["#3e26a8","#3a48d5","#1a66ee","#1583d6","#0a98b4","#14aa84","#aab42c","#f5b23a","#f9f914"]},"legend":{"title":"m²\u2009 Hz⁻¹\u2009 deg⁻¹","values":[2,4,6,8,10,12,14,16],"legendX":274.95,"legendY":-49,"gradientLength":369}}}},
{"data":{"name":"rlabels"},"mark":{"type":"text","align":"left","baseline":"middle","font":"Liberation Serif","fontSize":17,"color":"black"},"encoding":{"x":{"field":"x","type":"quantitative","scale":{"domain":[-0.3,0.3],"nice":false,"zero":false},"axis":null},"y":{"field":"y","type":"quantitative","scale":{"domain":[-0.3,0.3],"nice":false,"zero":false},"axis":null},"text":{"field":"t","type":"nominal"}}}
]},
{"width":323.4,"height":323.4,"title":{"text":"(b)","offset":86,"dx":5},
"layer":[
{"data":{"name":"circles"},"mark":{"type":"point","shape":"circle","filled":false,"color":"#dcdcdc","strokeWidth":1,"opacity":1},"encoding":{"x":{"datum":0,"type":"quantitative","scale":{"domain":[-0.3,0.3],"nice":false,"zero":false},"axis":null},"y":{"datum":0,"type":"quantitative","scale":{"domain":[-0.3,0.3],"nice":false,"zero":false},"axis":null},"size":{"field":"r","type":"quantitative","scale":{"type":"pow","exponent":2,"domain":[0,0.3],"range":[0,104588]},"legend":null}}},
{"data":{"name":"spokes"},"mark":{"type":"rule","color":"#dcdcdc","strokeWidth":1},"encoding":{"x":{"field":"x","type":"quantitative","scale":{"domain":[-0.3,0.3],"nice":false,"zero":false},"axis":null},"y":{"field":"y","type":"quantitative","scale":{"domain":[-0.3,0.3],"nice":false,"zero":false},"axis":null},"x2":{"field":"x2"},"y2":{"field":"y2"}}},
{"data":{"name":"cb"},"mark":{"type":"line","strokeWidth":1.1},"encoding":{"x":{"field":"x","type":"quantitative","scale":{"domain":[-0.3,0.3],"nice":false,"zero":false},"axis":null},"y":{"field":"y","type":"quantitative","scale":{"domain":[-0.3,0.3],"nice":false,"zero":false},"axis":null},"detail":{"field":"k","type":"nominal"},"order":{"field":"i","type":"quantitative"},"color":{"field":"lv","type":"quantitative","scale":{"domain":[0.28,1.454,2.628,3.801,4.975,6.149,7.323,8.496,9.67],"range":["#3e26a8","#3a48d5","#1a66ee","#1583d6","#0a98b4","#14aa84","#aab42c","#f5b23a","#f9f914"]},"legend":{"title":"m²\u2009 Hz⁻¹\u2009 deg⁻¹","values":[1,2,3,4,5,6,7,8,9],"legendX":275.45,"legendY":-49,"gradientLength":369}}}},
{"data":{"name":"rlabels"},"mark":{"type":"text","align":"left","baseline":"middle","font":"Liberation Serif","fontSize":17,"color":"black"},"encoding":{"x":{"field":"x","type":"quantitative","scale":{"domain":[-0.3,0.3],"nice":false,"zero":false},"axis":null},"y":{"field":"y","type":"quantitative","scale":{"domain":[-0.3,0.3],"nice":false,"zero":false},"axis":null},"text":{"field":"t","type":"nominal"}}}
]},
{"width":349.7,"height":344,"title":{"text":"(c)","offset":56,"dx":-7},
"layer":[
{"data":{"name":"circles"},"mark":{"type":"point","shape":"circle","filled":false,"color":"#dcdcdc","strokeWidth":1,"opacity":1},"encoding":{"x":{"datum":0,"type":"quantitative","scale":{"domain":[-0.30995,0.3],"nice":false,"zero":false},"axis":null},"y":{"datum":0,"type":"quantitative","scale":{"domain":[-0.3,0.3],"nice":false,"zero":false},"axis":null},"size":{"field":"r","type":"quantitative","scale":{"type":"pow","exponent":2,"domain":[0,0.3],"range":[0,118336]},"legend":null}}},
{"data":{"name":"spokes"},"mark":{"type":"rule","color":"#dcdcdc","strokeWidth":1},"encoding":{"x":{"field":"x","type":"quantitative","scale":{"domain":[-0.30995,0.3],"nice":false,"zero":false},"axis":null},"y":{"field":"y","type":"quantitative","scale":{"domain":[-0.3,0.3],"nice":false,"zero":false},"axis":null},"x2":{"field":"x2"},"y2":{"field":"y2"}}},
{"data":{"name":"cc"},"mark":{"type":"line","strokeWidth":1.1},"encoding":{"x":{"field":"x","type":"quantitative","scale":{"domain":[-0.30995,0.3],"nice":false,"zero":false},"axis":null},"y":{"field":"y","type":"quantitative","scale":{"domain":[-0.3,0.3],"nice":false,"zero":false},"axis":null},"detail":{"field":"k","type":"nominal"},"order":{"field":"i","type":"quantitative"},"color":{"field":"lv","type":"quantitative","scale":{"domain":[0.16,1.681,3.203,4.724,6.245,7.766,9.288,10.809,12.33],"range":["#3e26a8","#3a48d5","#1a66ee","#1583d6","#0a98b4","#14aa84","#aab42c","#f5b23a","#f9f914"]},"legend":{"title":"m²\u2009 Hz⁻¹\u2009 deg⁻¹","values":[2,4,6,8,10,12],"legendX":302.35,"legendY":-49.7,"gradientLength":396.7}}}},
{"data":{"name":"rlabels"},"mark":{"type":"text","align":"left","baseline":"middle","font":"Liberation Serif","fontSize":17,"color":"black"},"encoding":{"x":{"field":"x","type":"quantitative","scale":{"domain":[-0.30995,0.3],"nice":false,"zero":false},"axis":null},"y":{"field":"y","type":"quantitative","scale":{"domain":[-0.3,0.3],"nice":false,"zero":false},"axis":null},"text":{"field":"t","type":"nominal"}}}
]},
{"width":348.7,"height":344,"title":{"text":"(d)","offset":56,"dx":-5},
"layer":[
{"data":{"name":"circles"},"mark":{"type":"point","shape":"circle","filled":false,"color":"#dcdcdc","strokeWidth":1,"opacity":1},"encoding":{"x":{"datum":0,"type":"quantitative","scale":{"domain":[-0.3082,0.3],"nice":false,"zero":false},"axis":null},"y":{"datum":0,"type":"quantitative","scale":{"domain":[-0.3,0.3],"nice":false,"zero":false},"axis":null},"size":{"field":"r","type":"quantitative","scale":{"type":"pow","exponent":2,"domain":[0,0.3],"range":[0,118336]},"legend":null}}},
{"data":{"name":"spokes"},"mark":{"type":"rule","color":"#dcdcdc","strokeWidth":1},"encoding":{"x":{"field":"x","type":"quantitative","scale":{"domain":[-0.3082,0.3],"nice":false,"zero":false},"axis":null},"y":{"field":"y","type":"quantitative","scale":{"domain":[-0.3,0.3],"nice":false,"zero":false},"axis":null},"x2":{"field":"x2"},"y2":{"field":"y2"}}},
{"data":{"name":"cd"},"mark":{"type":"line","strokeWidth":1.1},"encoding":{"x":{"field":"x","type":"quantitative","scale":{"domain":[-0.3082,0.3],"nice":false,"zero":false},"axis":null},"y":{"field":"y","type":"quantitative","scale":{"domain":[-0.3,0.3],"nice":false,"zero":false},"axis":null},"detail":{"field":"k","type":"nominal"},"order":{"field":"i","type":"quantitative"},"color":{"field":"lv","type":"quantitative","scale":{"domain":[0.15,1.324,2.498,3.671,4.845,6.019,7.193,8.366,9.54],"range":["#3e26a8","#3a48d5","#1a66ee","#1583d6","#0a98b4","#14aa84","#aab42c","#f5b23a","#f9f914"]},"legend":{"title":"m²\u2009 Hz⁻¹\u2009 deg⁻¹","values":[1,2,3,4,5,6,7,8,9],"legendX":302.15,"legendY":-49.7,"gradientLength":396.7}}}},
{"data":{"name":"rlabels"},"mark":{"type":"text","align":"left","baseline":"middle","font":"Liberation Serif","fontSize":17,"color":"black"},"encoding":{"x":{"field":"x","type":"quantitative","scale":{"domain":[-0.3082,0.3],"nice":false,"zero":false},"axis":null},"y":{"field":"y","type":"quantitative","scale":{"domain":[-0.3,0.3],"nice":false,"zero":false},"axis":null},"text":{"field":"t","type":"nominal"}}}
]}
]
}
